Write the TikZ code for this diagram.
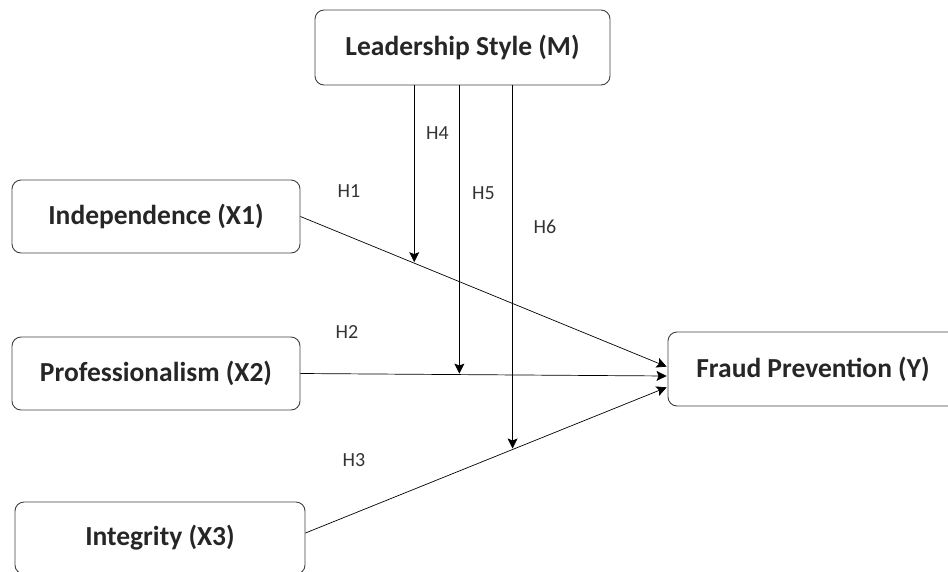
\documentclass[tikz,border=0pt]{standalone}
\usepackage{fontspec}
\setmainfont{Carlito}
\usetikzlibrary{arrows.meta,positioning}

\tikzset{
  var/.style={draw=black!75,line width=0.9pt,rounded corners=9pt,font=\fontsize{27.5}{32}\selectfont\bfseries,text=black!85},
  hyp/.style={font=\fontsize{20}{24}\selectfont,text=black!80}
}

\begin{document}
\begin{tikzpicture}[x=1pt,y=-1pt,>={Stealth[length=10pt,width=10pt,inset=2pt]},shorten >=1pt,line width=0.7pt]
  \useasboundingbox (0,0) rectangle (948,571);

  \node[var,minimum width=295pt,minimum height=75pt] (m)  at (462.5,47.5) {Leadership Style (M)};
  \node[var,minimum width=288pt,minimum height=73pt] (x1) at (156,216.5)  {Independence (X1)};
  \node[var,minimum width=288pt,minimum height=73pt] (x2) at (156,373.5)  {Professionalism (X2)};
  \node[var,minimum width=290pt,minimum height=72pt] (x3) at (160,538)    {Integrity (X3)};
  \node[var,minimum width=290pt,minimum height=74pt] (y)  at (813,369)    {Fraud Prevention (Y)};

  % direct paths
  \draw[->] (x1.east) -- coordinate[pos=0.31] (p1) ([yshift=2pt]y.west);
  \draw[->] (x2.east) -- coordinate[pos=0.433] (p2) ([yshift=-7pt]y.west);
  \draw[->] ([yshift=5pt]x3.east) -- coordinate[pos=0.572] (p3) ([yshift=-18pt]y.west);

  % moderation
  \draw[->] (m.south -| p1) -- (p1);
  \draw[->] (m.south -| p2) -- (p2);
  \draw[->] (m.south -| p3) -- (p3);

  \node[hyp] (h1) at (349,191.5) {H1};
  \node[hyp] (h2) at (347,332)   {H2};
  \node[hyp] (h3) at (354,460)   {H3};
  \node[hyp] (h4) at (437.5,133) {H4};
  \node[hyp] (h5) at (483.5,193.5) {H5};
  \node[hyp] (h6) at (545,226.5) {H6};
\end{tikzpicture}
\end{document}
